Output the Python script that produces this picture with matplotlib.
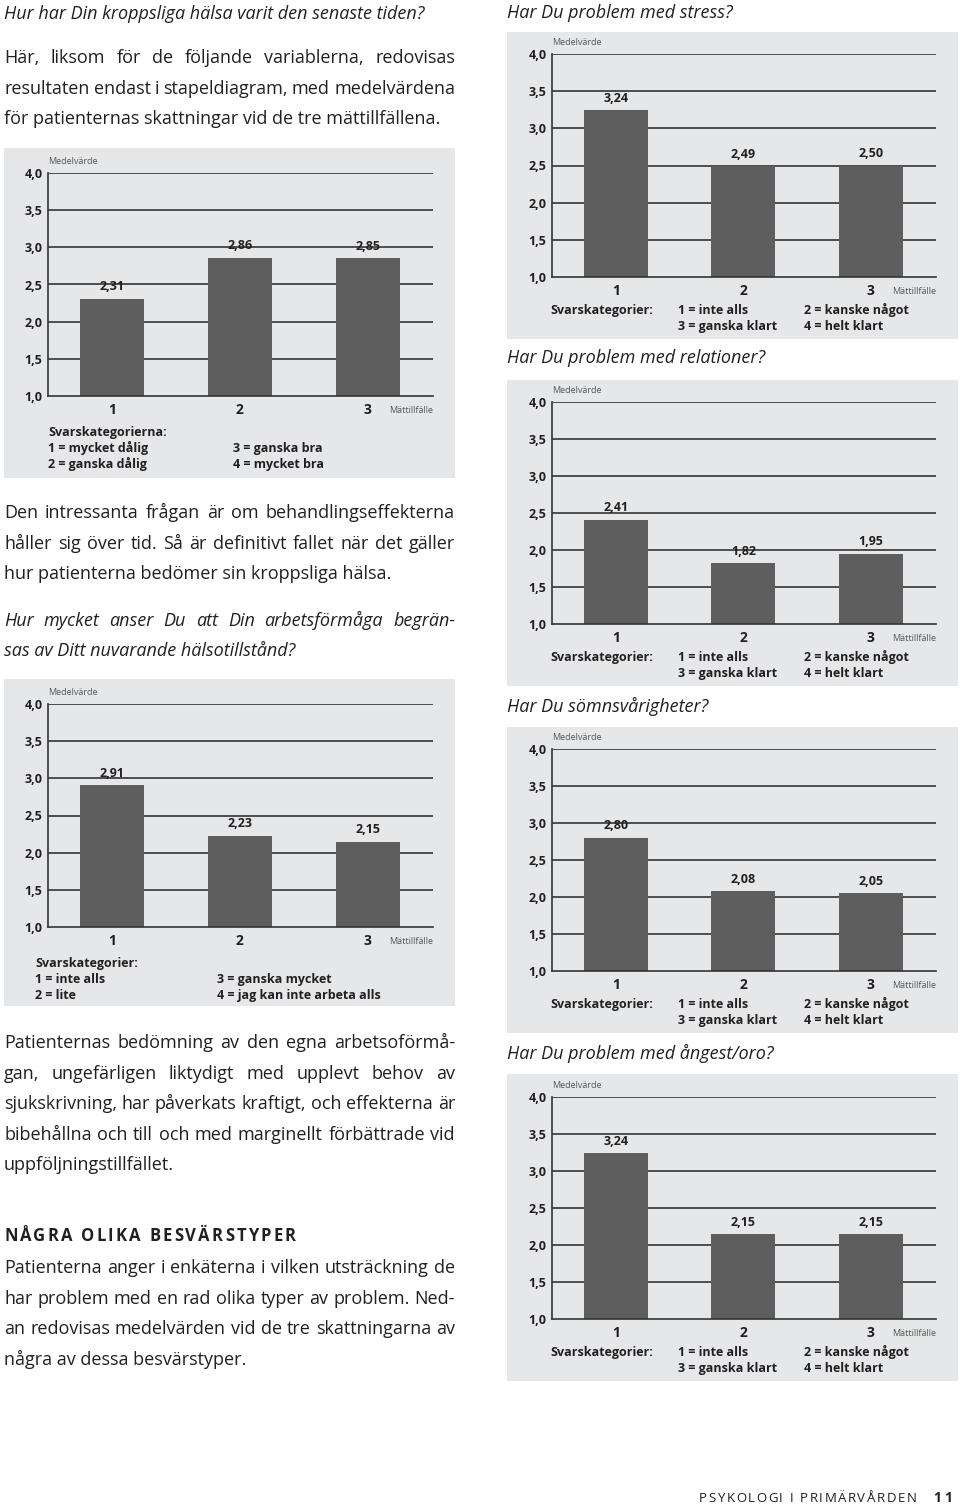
import matplotlib
matplotlib.use('Agg')
from matplotlib import pyplot as plt
from matplotlib.patches import Rectangle

W, H = 960, 1505
FONT = 'Open Sans'
plt.rcParams['font.family'] = [FONT, 'DejaVu Sans']

# --- data (mean values per measurement occasion) ---
occasions = ['1', '2', '3']
yticks = [1.0, 1.5, 2.0, 2.5, 3.0, 3.5, 4.0]
kropp = [2.31, 2.86, 2.85]
arbete = [2.91, 2.23, 2.15]
stress = [3.24, 2.49, 2.50]
relationer = [2.41, 1.82, 1.95]
somn = [2.80, 2.08, 2.05]
angest = [3.24, 2.15, 2.15]

legend_kropp = ['Svarskategorierna:', '1 = mycket dålig', '2 = ganska dålig',
                '3 = ganska bra', '4 = mycket bra']
legend_arbete = ['Svarskategorier:', '1 = inte alls', '2 = lite',
                 '3 = ganska mycket', '4 = jag kan inte arbeta alls']
legend_problem = ['Svarskategorier:', '1 = inte alls', '3 = ganska klart',
                  '2 = kanske något', '4 = helt klart']

BG = '#e6e7e8'
BAR = '#5e5e5e'
LINE = '#333333'
TXT = '#231f20'

fig = plt.figure(figsize=(W / 100, H / 100), dpi=100)
renderer = fig.canvas.get_renderer()


def fx(x):
    return x / W


def fy(y):
    return 1 - y / H


def txt(x, y, s, **kw):
    kw.setdefault('va', 'baseline')
    kw.setdefault('color', TXT)
    return fig.text(fx(x), fy(y), s, **kw)


def para(lines, x0, x1, y0, dy, **kw):
    # justified paragraph, last line left aligned (y0 = first baseline)
    for i, line in enumerate(lines):
        y = y0 + i * dy
        words = line.split()
        if i == len(lines) - 1 or len(words) == 1:
            txt(x0, y, line, **kw)
            continue
        ts = [txt(0, y, w, **kw) for w in words]
        widths = [t.get_window_extent(renderer).width for t in ts]
        gap = (x1 - x0 - sum(widths)) / (len(words) - 1)
        x = x0
        for t, w in zip(ts, widths):
            t.set_x(fx(x))
            x += w + gap


def tracked(x, y, s, track, **kw):
    # letter spaced text
    for ch in s:
        t = txt(x, y, ch, **kw)
        x += t.get_window_extent(renderer).width + track
    return x


def chart(values, axL, axR, y4, y1, panel, legend, leg):
    px0, py0, px1, py1 = panel
    fig.patches.append(Rectangle((fx(px0), fy(py1)), (px1 - px0) / W, (py1 - py0) / H,
                                 transform=fig.transFigure, facecolor=BG,
                                 edgecolor='none', zorder=-5))
    ax = fig.add_axes([fx(axL), fy(y1), (axR - axL) / W, (y1 - y4) / H])
    ax.set_facecolor('none')
    x = [1, 2, 3]
    for yv in yticks[1:]:
        ax.axhline(yv, color=LINE, lw=1.2, zorder=1)
    ax.bar(x, values, width=0.5, color=BAR, zorder=2)
    for xi, v in zip(x, values):
        ax.annotate(f'{v:.2f}'.replace('.', ','), (xi, v), xytext=(0, 6),
                    textcoords='offset points', ha='center', va='baseline',
                    fontsize=9, fontweight='bold', color=TXT)
    ax.set_xlim(0.5, 3.51)
    ax.set_ylim(1, 4)
    ax.set_yticks(yticks)
    ax.set_yticklabels([f'{v:.1f}'.replace('.', ',') for v in yticks],
                       fontweight='bold')
    ax.set_xticks(x)
    ax.set_xticklabels(occasions, fontweight='bold')
    ax.tick_params(axis='y', length=0, pad=4, labelsize=9, labelcolor=TXT)
    ax.tick_params(axis='x', length=0, pad=5, labelsize=10, labelcolor=TXT)
    for s in ['top', 'right']:
        ax.spines[s].set_visible(False)
    for s in ['left', 'bottom']:
        ax.spines[s].set_color(LINE)
        ax.spines[s].set_linewidth(1.2)
    txt(axL, y4 - 9, 'Medelvärde', fontsize=6.5, color='#555555')
    txt(axR, y1 + 17, 'Mättillfälle', fontsize=6.5, color='#555555', ha='right')
    kw = dict(fontsize=9, fontweight='bold')
    if leg == 'right':
        txt(axL - 2, y1 + 37, legend[0], **kw)
        txt(678, y1 + 37, legend[1], **kw)
        txt(678, y1 + 53, legend[2], **kw)
        txt(804, y1 + 37, legend[3], **kw)
        txt(804, y1 + 53, legend[4], **kw)
    else:
        lx, cx = leg
        txt(lx, y1 + 40, legend[0], **kw)
        txt(lx, y1 + 56, legend[1], **kw)
        txt(lx, y1 + 72, legend[2], **kw)
        txt(cx, y1 + 56, legend[3], **kw)
        txt(cx, y1 + 72, legend[4], **kw)


BODY = dict(fontsize=13.0)
IT = dict(fontsize=13.0, style='italic')
B = 6  # center-to-baseline offset for body text

# left column
txt(4, 13 + B, 'Hur har Din kroppsliga hälsa varit den senaste tiden?', **IT)
para(['Här, liksom för de följande variablerna, redovisas',
      'resultaten endast i stapeldiagram, med medelvärdena',
      'för patienternas skattningar vid de tre mättillfällena.'],
     4, 455, 57 + B, 30.7, **BODY)
chart(kropp, 48, 433, 173, 396, (4, 148, 455, 478), legend_kropp, (48, 233))
para(['Den intressanta frågan är om behandlingseffekterna',
      'håller sig över tid. Så är definitivt fallet när det gäller',
      'hur patienterna bedömer sin kroppsliga hälsa.'],
     4, 455, 512 + B, 30.7, **BODY)
para(['Hur mycket anser Du att Din arbetsförmåga begrän-',
      'sas av Ditt nuvarande hälsotillstånd?'],
     4, 455, 620 + B, 30.5, **IT)
chart(arbete, 48, 433, 704, 927, (4, 679, 455, 1006), legend_arbete, (35, 217))
para(['Patienternas bedömning av den egna arbetsoförmå-',
      'gan, ungefärligen liktydigt med upplevt behov av',
      'sjukskrivning, har påverkats kraftigt, och effekterna är',
      'bibehållna och till och med marginellt förbättrade vid',
      'uppföljningstillfället.'],
     4, 455, 1042 + B, 30.6, **BODY)
tracked(4, 1236 + 5, 'NÅGRA OLIKA BESVÄRSTYPER', 2.2, fontsize=12, fontweight='bold')
para(['Patienterna anger i enkäterna i vilken utsträckning de',
      'har problem med en rad olika typer av problem. Ned-',
      'an redovisas medelvärden vid de tre skattningarna av',
      'några av dessa besvärstyper.'],
     4, 455, 1267 + B, 30.7, **BODY)

# right column
txt(507, 12 + B, 'Har Du problem med stress?', **IT)
chart(stress, 552, 936, 54, 277, (507, 32, 958, 339), legend_problem, 'right')
txt(507, 357 + B, 'Har Du problem med relationer?', **IT)
chart(relationer, 552, 936, 402, 624, (507, 380, 958, 686), legend_problem, 'right')
txt(507, 706 + B, 'Har Du sömnsvårigheter?', **IT)
chart(somn, 552, 936, 749, 971, (507, 727, 958, 1033), legend_problem, 'right')
txt(507, 1053 + B, 'Har Du problem med ångest/oro?', **IT)
chart(angest, 552, 936, 1097, 1319, (507, 1074, 958, 1381), legend_problem, 'right')

tracked(699, 1502, 'PSYKOLOGI I PRIMÄRVÅRDEN', 1.6, fontsize=9.5)
tracked(933, 1502, '11', 3, fontsize=10, fontweight='bold')

fig.savefig('out.png', dpi=100, facecolor='white')
